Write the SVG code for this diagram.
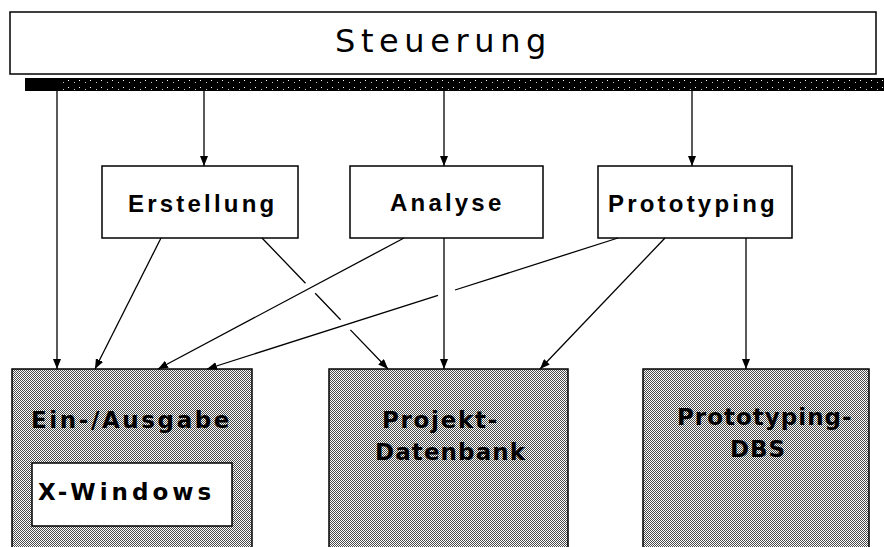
<svg xmlns="http://www.w3.org/2000/svg" width="884" height="547" viewBox="0 0 884 547">
  <style>
    .box { fill: #fff; stroke: #000; stroke-width: 1.5; }
    .shade { fill: url(#dots); stroke: #000; stroke-width: 1.5; }
    .lbl { font-family: "Liberation Sans", Arial, sans-serif; font-weight: bold; font-size: 24px; letter-spacing: 3.2px; fill: #000; }
    .big { font-family: "DejaVu Sans", "Liberation Sans", sans-serif; font-weight: bold; font-size: 23px; fill: #000; }
    .title { font-family: "DejaVu Sans", "Liberation Sans", sans-serif; font-size: 32px; letter-spacing: 5.6px; fill: #000; }
    .conn { fill: none; stroke: #000; stroke-width: 1.3; marker-end: url(#arrow); }
  </style>
  <defs>
    <pattern id="dots" x="0" y="0" width="2" height="2" patternUnits="userSpaceOnUse">
      <rect width="2" height="2" fill="#fff"/>
      <rect x="0" y="0" width="1" height="1" fill="#4a4a4a"/>
      <rect x="1" y="1" width="1" height="1" fill="#4a4a4a"/>
    </pattern>
    <pattern id="speck" x="0" y="0" width="11" height="7" patternUnits="userSpaceOnUse">
      <rect width="11" height="7" fill="#000"/>
      <rect x="2" y="3" width="1" height="1" fill="#fff"/>
      <rect x="8" y="5" width="1" height="1" fill="#ccc"/>
    </pattern>
    <marker id="arrow" viewBox="0 0 10 8" refX="10" refY="4" markerWidth="10" markerHeight="8" markerUnits="userSpaceOnUse" orient="auto">
      <path d="M0,0 L10,4 L0,8 Z" fill="#000"/>
    </marker>
  </defs>

  <g id="steuerung">
    <rect class="box" x="10" y="12" width="866" height="62"/>
    <rect x="25" y="78" width="859" height="13" fill="url(#speck)"/>
    <rect x="25" y="78" width="35" height="13" fill="#000"/>
    <text class="title" x="335" y="52">Steuerung</text>
  </g>

  <g id="erstellung">
    <rect class="box" x="102" y="166" width="196" height="72"/>
    <text class="lbl" x="128" y="212" letter-spacing="3">Erstellung</text>
  </g>
  <g id="analyse">
    <rect class="box" x="350" y="166" width="193" height="72"/>
    <text class="lbl" x="390" y="211" letter-spacing="3.5">Analyse</text>
  </g>
  <g id="prototyping">
    <rect class="box" x="598" y="166" width="194" height="72"/>
    <text class="lbl" x="608" y="212" letter-spacing="3.4">Prototyping</text>
  </g>

  <g id="ein-ausgabe">
    <rect class="shade" x="12" y="369" width="240" height="185"/>
    <text class="big" x="31" y="428" letter-spacing="2.6">Ein-/Ausgabe</text>
    <g id="x-windows">
      <rect class="box" x="32" y="463" width="200" height="63"/>
      <text class="big" x="38" y="500" letter-spacing="4">X-Windows</text>
    </g>
  </g>
  <g id="projekt-datenbank">
    <rect class="shade" x="329" y="369" width="239" height="185"/>
    <text class="big" x="382" y="428" letter-spacing="1.7">Projekt-</text>
    <text class="big" x="375" y="460" letter-spacing="1.1">Datenbank</text>
  </g>
  <g id="prototyping-dbs">
    <rect class="shade" x="643" y="369" width="226" height="185"/>
    <text class="big" x="677" y="425" letter-spacing="1">Prototyping-</text>
    <text class="big" x="730" y="457" letter-spacing="1">DBS</text>
  </g>

  <g id="connectors">
    <path class="conn" d="M57,91 L57,369"/>
    <path class="conn" d="M204,91 L204,166"/>
    <path class="conn" d="M444,91 L444,166"/>
    <path class="conn" d="M692,91 L692,166"/>
    <path class="conn" d="M161,238 L95,369"/>
    <path class="conn" d="M262,238 L305.5,283.2 M315.2,293.2 L340.6,319.8 M350.4,329.9 L388,369"/>
    <path class="conn" d="M404,238 L158,369"/>
    <path class="conn" d="M444,238 L444,369"/>
    <path class="conn" d="M618,238 L455,290 M438,295.4 L207,369"/>
    <path class="conn" d="M665,238 L540,369"/>
    <path class="conn" d="M746,238 L746,369"/>
  </g>
</svg>
